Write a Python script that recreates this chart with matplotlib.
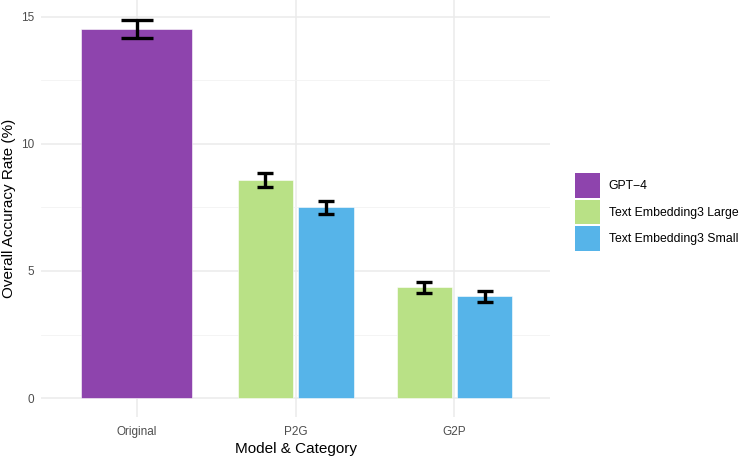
import matplotlib
matplotlib.use('Agg')
import matplotlib.pyplot as plt
from matplotlib.patches import Patch
import numpy as np

plt.rcParams['font.family'] = ['Liberation Sans', 'DejaVu Sans']

# data
categories = ['Original', 'P2G', 'G2P']
models = ['GPT\u22124', 'Text Embedding3 Large', 'Text Embedding3 Small']
colors = ['#8E44AD', '#B9E186', '#56B4E9']

gpt_vals = [14.5]
gpt_err = [0.36]
large_vals = [8.58, 4.36]
large_err = [0.27, 0.21]
small_vals = [7.50, 4.00]
small_err = [0.26, 0.22]

fig = plt.figure(figsize=(7.4, 4.57), dpi=100)
ax = fig.add_axes([0.056, 0.087, 0.687, 0.913])

x = np.arange(len(categories))
grid_c = '#EBEBEB'
lw_err = 2.4

# single bar for Original
ax.bar(x[0], gpt_vals[0], width=0.7, color=colors[0], edgecolor='white', linewidth=0.4, zorder=2)
ax.errorbar(x[0], gpt_vals[0], yerr=gpt_err[0], fmt='none', ecolor='black',
            elinewidth=lw_err, capsize=11.2, capthick=lw_err, zorder=3)

# dodged bars for P2G / G2P
off = 0.19
bw = 0.35
ax.bar(x[1:] - off, large_vals, width=bw, color=colors[1], edgecolor='white', linewidth=0.4, zorder=2)
ax.bar(x[1:] + off, small_vals, width=bw, color=colors[2], edgecolor='white', linewidth=0.4, zorder=2)
ax.errorbar(x[1:] - off, large_vals, yerr=large_err, fmt='none', ecolor='black',
            elinewidth=lw_err, capsize=6, capthick=lw_err, zorder=3)
ax.errorbar(x[1:] + off, small_vals, yerr=small_err, fmt='none', ecolor='black',
            elinewidth=lw_err, capsize=6, capthick=lw_err, zorder=3)

ax.set_xlim(-0.6, 2.6)
ax.set_ylim(-0.75, 15.65)
ax.set_xticks(x)
ax.set_xticklabels(categories)
ax.set_yticks([0, 5, 10, 15])
ax.set_yticks([2.5, 7.5, 12.5], minor=True)

ax.grid(True, which='major', axis='both', color=grid_c, linewidth=1.1, zorder=0)
ax.grid(True, which='minor', axis='y', color='#F3F3F3', linewidth=0.6, zorder=0)
ax.set_axisbelow(True)
for s in ax.spines.values():
    s.set_visible(False)
ax.tick_params(axis='both', which='both', length=0, labelsize=8.5, labelcolor='#4D4D4D')
ax.tick_params(axis='x', pad=6)
ax.tick_params(axis='y', pad=5)

ax.set_xlabel('Model & Category', fontsize=11, color='black', labelpad=3)
ax.set_ylabel('Overall Accuracy Rate (%)', fontsize=11, color='black', labelpad=4)

handles = [Patch(facecolor=c, edgecolor='none') for c in colors]
fig.legend(handles, models, loc='center left', bbox_to_anchor=(0.777, 0.536),
           frameon=False, fontsize=8.8, handlelength=2.05, handleheight=2.75,
           labelspacing=0.12, handletextpad=0.72, borderpad=0, borderaxespad=0)

fig.savefig('out.png', dpi=100)
